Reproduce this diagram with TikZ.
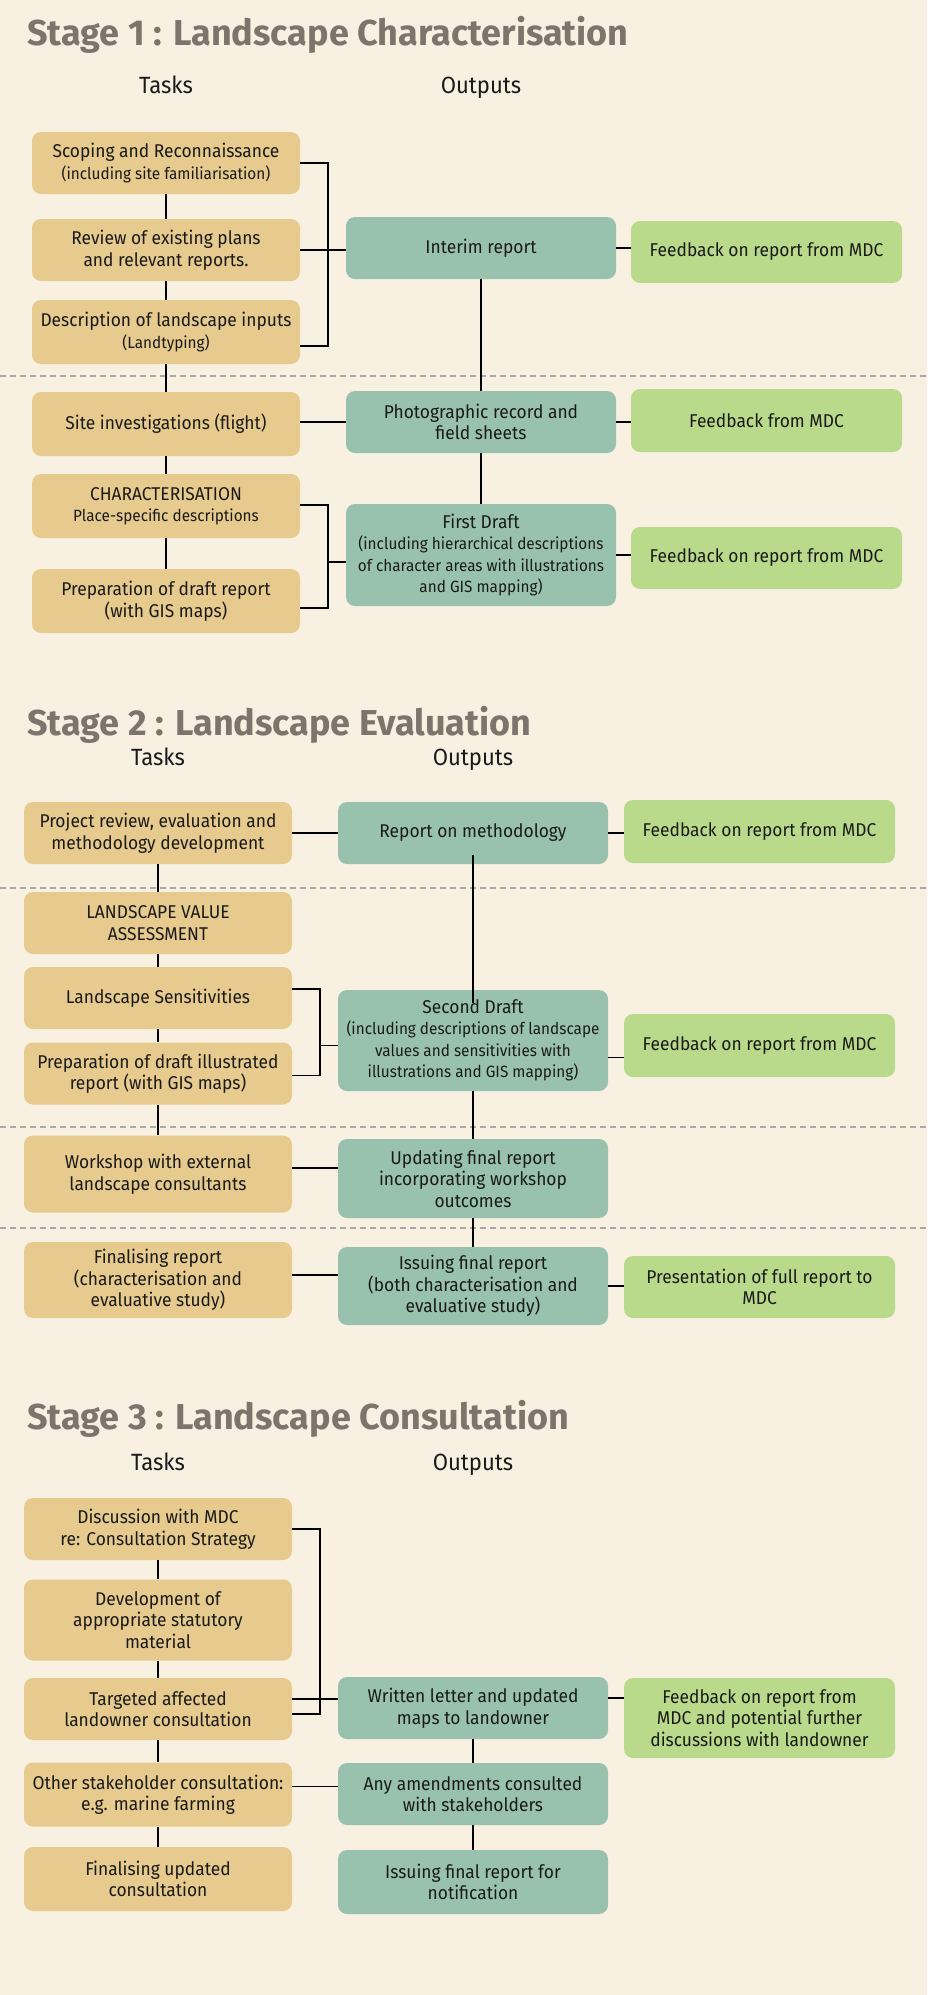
\documentclass[tikz,border=0pt]{standalone}
\usepackage{fontspec}
\setmainfont[FakeStretch=0.94]{Fira Sans}
\newfontfamily\titlefont{Fira Sans}
\definecolor{bgc}{HTML}{F8F0E1}
\definecolor{tanc}{HTML}{E6CA8E}
\definecolor{tealc}{HTML}{99C2AE}
\definecolor{greenc}{HTML}{B9DA8A}
\definecolor{titlec}{HTML}{7D756C}
\definecolor{dashc}{HTML}{ABA8A6}
\definecolor{txtc}{HTML}{1A1A1A}
\newcommand{\sm}{\fontsize{16.3}{20}\selectfont}
\begin{document}
\begin{tikzpicture}[x=1pt,y=-1pt,
  box/.style={rounded corners=9pt, inner sep=0pt, align=center, text=txtc,
    font=\fontsize{18.5}{21.5}\selectfont},
  task/.style={box, fill=tanc, minimum width=268pt},
  outp/.style={box, fill=tealc, minimum width=270pt},
  fb/.style={box, fill=greenc, minimum width=271pt},
  conn/.style={line width=1.6pt, black},
  dashline/.style={line width=2pt, dashc, dash pattern=on 6pt off 4pt},
  stagetitle/.style={anchor=base west, inner sep=0pt, text=titlec, font=\titlefont\fontsize{36}{40}\selectfont\bfseries},
  colhead/.style={anchor=base, inner sep=0pt, text=txtc, font=\fontsize{23.5}{26}\selectfont}
]
\fill[bgc] (0,0) rectangle (927,1995);
\useasboundingbox (0,0) rectangle (927,1995);

% dashed separators
\draw[dashline] (0,376) -- (927,376);
\draw[dashline] (0,888) -- (927,888);
\draw[dashline] (0,1127) -- (927,1127);
\draw[dashline] (0,1228) -- (927,1228);

% ---------- Stage 1 ----------
\node[stagetitle] (t1) at (27,45) {Stage 1 : Landscape Characterisation};
\node[colhead] (h1a) at (166,93) {Tasks};
\node[colhead] (h1b) at (481,93) {Outputs};

\node[task, minimum height=62pt] (s1a) at (166,163) {Scoping and Reconnaissance\\{\sm (including site familiarisation)}};
\node[task, minimum height=62pt] (s1b) at (166,250) {Review of existing plans\\and relevant reports.};
\node[task, minimum height=64pt] (s1c) at (166,332) {Description of landscape inputs\\{\sm (Landtyping)}};
\node[task, minimum height=64pt] (s1d) at (166,424) {Site investigations (flight)};
\node[task, minimum height=64pt] (s1e) at (166,506) {CHARACTERISATION\\{\sm Place-specific descriptions}};
\node[task, minimum height=64pt] (s1f) at (166,601) {Preparation of draft report\\(with GIS maps)};

\node[outp, minimum height=62pt] (o1a) at (481,248) {Interim report};
\node[outp, minimum height=62pt] (o1b) at (481,422) {Photographic record and\\field sheets};
\node[outp, minimum height=102pt] (o1c) at (481,555) {First Draft\\{\sm (including hierarchical descriptions}\\{\sm of character areas with illustrations}\\{\sm and GIS mapping)}};

\node[fb, minimum height=62pt] (f1a) at (766.5,252) {Feedback on report from MDC};
\node[fb, minimum height=63pt] (f1b) at (766.5,420.5) {Feedback from MDC};
\node[fb, minimum height=62pt] (f1c) at (766.5,558) {Feedback on report from MDC};

\draw[conn] (s1a.south) -- (s1b.north);
\draw[conn] (s1b.south) -- (s1c.north);
\draw[conn] (s1c.south) -- (s1d.north);
\draw[conn] (s1d.south) -- (s1e.north);
\draw[conn] (s1e.south) -- (s1f.north);
\draw[conn] (o1a.south) -- (o1b.north);
\draw[conn] (o1b.south) -- (o1c.north);
\draw[conn] (s1a.east) -- ++(28,0) |- ([yshift=-14pt]s1c.east);
\draw[conn] (s1b.east) -- (s1b.east -| o1a.west);
\draw[conn] (o1a.east) -- (o1a.east -| f1a.west);
\draw[conn] (o1b.west) -- (o1b.west -| s1d.east);
\draw[conn] (o1b.east) -- (o1b.east -| f1b.west);
\draw[conn] ([yshift=1pt]s1e.east) -- ++(28,0) |- ([yshift=-7pt]s1f.east);
\draw[conn] ([yshift=-7pt]o1c.west) -- ++(-19,0);
\draw[conn] (o1c.east) -- (o1c.east -| f1c.west);

% ---------- Stage 2 ----------
\node[stagetitle] (t2) at (27,735) {Stage 2 : Landscape Evaluation};
\node[colhead] (h2a) at (158,765) {Tasks};
\node[colhead] (h2b) at (473,765) {Outputs};

\node[task, minimum height=62pt] (s2a) at (158,833) {Project review, evaluation and\\methodology development};
\node[task, minimum height=62pt] (s2b) at (158,923) {LANDSCAPE VALUE\\ASSESSMENT};
\node[task, minimum height=62pt] (s2c) at (158,998) {Landscape Sensitivities};
\node[task, minimum height=62pt] (s2d) at (158,1073.5) {Preparation of draft illustrated\\report (with GIS maps)};
\node[task, minimum height=77pt] (s2e) at (158,1174) {Workshop with external\\landscape consultants};
\node[task, minimum height=76pt] (s2f) at (158,1280) {Finalising report\\(characterisation and\\evaluative study)};

\node[outp, minimum height=62pt] (o2a) at (473,833) {Report on methodology};
\node[outp, minimum height=101pt] (o2b) at (473,1040.5) {Second Draft\\{\sm (including descriptions of landscape}\\{\sm values and sensitivities with}\\{\sm illustrations and GIS mapping)}};
\node[outp, minimum height=79pt] (o2c) at (473,1178.5) {Updating final report\\incorporating workshop\\outcomes};
\node[outp, minimum height=78pt] (o2d) at (473,1286) {Issuing final report\\(both characterisation and\\evaluative study)};

\node[fb, minimum height=63pt] (f2a) at (759.5,831.5) {Feedback on report from MDC};
\node[fb, minimum height=63pt] (f2b) at (759.5,1045.5) {Feedback on report from MDC};
\node[fb, minimum height=62pt] (f2c) at (759.5,1287) {Presentation of full report to\\MDC};

\draw[conn] (s2a.south) -- (s2b.north);
\draw[conn] (s2b.south) -- (s2c.north);
\draw[conn] (s2c.south) -- (s2d.north);
\draw[conn] (s2d.south) -- (s2e.north);
\draw[conn] (s2a.east) -- (s2a.east -| o2a.west);
\draw[conn] (o2a.east) -- (o2a.east -| f2a.west);
\draw[conn] ([yshift=9pt]o2a.south) -- ([yshift=-13pt]o2b.north);
\draw[conn] ([yshift=9pt]s2c.east) -- ++(28,0) |- ([yshift=-2pt]s2d.east);
\draw[conn] ([yshift=-5pt]o2b.west) -- ++(-18,0);
\draw[conn] ([yshift=-12pt]f2b.west) -- ([yshift=-12pt]f2b.west -| o2b.east);
\draw[conn] (o2b.south) -- (o2c.north);
\draw[conn] (o2c.south) -- (o2d.north);
\draw[conn] ([yshift=6pt]s2e.east) -- ([yshift=6pt]s2e.east -| o2c.west);
\draw[conn] ([yshift=5pt]s2f.east) -- ([yshift=5pt]s2f.east -| o2d.west);
\draw[conn] (o2d.east) -- (o2d.east -| f2c.west);

% ---------- Stage 3 ----------
\node[stagetitle] (t3) at (27,1429) {Stage 3 : Landscape Consultation};
\node[colhead] (h3a) at (158,1470) {Tasks};
\node[colhead] (h3b) at (473,1470) {Outputs};

\node[task, minimum height=62pt] (s3a) at (158,1529) {Discussion with MDC\\re: Consultation Strategy};
\node[task, minimum height=81pt] (s3b) at (158,1620) {Development of\\appropriate statutory\\material};
\node[task, minimum height=62pt] (s3c) at (158,1709) {Targeted affected\\landowner consultation};
\node[task, minimum height=64pt] (s3d) at (158,1794.5) {Other stakeholder consultation:\\e.g. marine farming};
\node[task, minimum height=64pt] (s3e) at (158,1879) {Finalising updated\\consultation};

\node[outp, minimum height=62pt] (o3a) at (473,1708) {Written letter and updated\\maps to landowner};
\node[outp, minimum height=62pt] (o3b) at (473,1794) {Any amendments consulted\\with stakeholders};
\node[outp, minimum height=64pt] (o3c) at (473,1882) {Issuing final report for\\notification};

\node[fb, minimum height=80pt] (f3a) at (759.5,1718) {Feedback on report from\\MDC and potential further\\discussions with landowner};

\draw[conn] (s3a.south) -- (s3b.north);
\draw[conn] (s3b.south) -- (s3c.north);
\draw[conn] (s3c.south) -- (s3d.north);
\draw[conn] (s3d.south) -- (s3e.north);
\draw[conn] (o3a.south) -- (o3b.north);
\draw[conn] (o3b.south) -- (o3c.north);
\draw[conn] (s3a.east) -- ++(28,0) |- ([yshift=-5pt]s3c.east);
\draw[conn] ([yshift=9pt]o3a.west) -- ([yshift=9pt]o3a.west -| s3c.east);
\draw[conn] ([yshift=10pt]o3a.east) -- ([yshift=10pt]o3a.east -| f3a.west);
\draw[conn] ([yshift=8pt]s3d.east) -- ([yshift=8pt]s3d.east -| o3b.west);
\end{tikzpicture}
\end{document}
